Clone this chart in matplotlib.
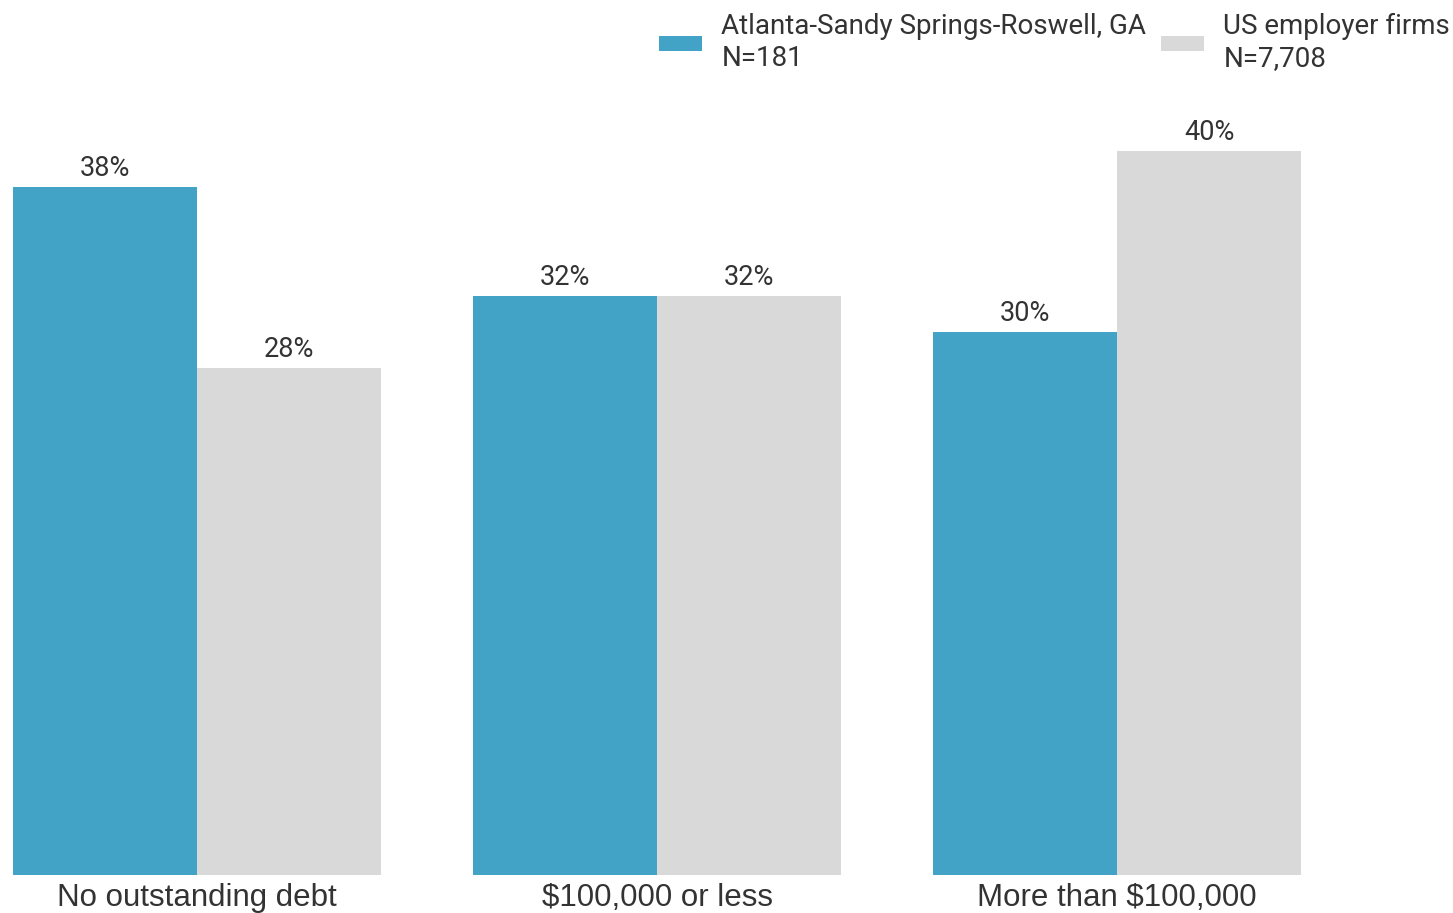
import matplotlib
matplotlib.use("Agg")
import matplotlib.pyplot as plt
import numpy as np

categories = ["No outstanding debt", "$100,000 or less", "More than $100,000"]
atlanta = [38, 32, 30]
us_firms = [28, 32, 40]
series_labels = ["Atlanta-Sandy Springs-Roswell, GA\nN=181", "US employer firms\nN=7,708"]
colors = ["#42A3C7", "#D9D9D9"]

W, H = 1453, 913
fig = plt.figure(figsize=(W / 100, H / 100), dpi=100)
ax = fig.add_axes([13 / W, 38 / H, (1301 - 13) / W, (875 - 151) / H])

x = np.arange(len(categories))
bw = 0.4
b1 = ax.bar(x - bw / 2, atlanta, bw, color=colors[0], label=series_labels[0])
b2 = ax.bar(x + bw / 2, us_firms, bw, color=colors[1], label=series_labels[1])

for bars, vals in ((b1, atlanta), (b2, us_firms)):
    for rect, v in zip(bars, vals):
        ax.annotate(f"{v}%", (rect.get_x() + rect.get_width() / 2, rect.get_height()),
                    xytext=(0, 3.5), textcoords="offset points", ha="center", va="bottom",
                    fontsize=19.5, family="Roboto", color="#333333", annotation_clip=False)

ax.set_xlim(-0.4, 2.4)
ax.set_ylim(0, 40)
ax.set_xticks(x)
ax.set_xticklabels(categories, fontsize=22.5, family="Liberation Sans", color="#333333")
ax.tick_params(axis="x", length=0, pad=6)
ax.set_yticks([])
for s in ax.spines.values():
    s.set_visible(False)

leg = fig.legend(handles=[b1, b2], labels=series_labels, ncol=2, loc="upper right",
                 bbox_to_anchor=(1450 / W, 1 - 13 / H), frameon=False,
                 prop={"family": "Roboto", "size": 20},
                 handlelength=1.55, handleheight=0.47, handletextpad=0.68,
                 columnspacing=0.54, borderaxespad=0, borderpad=0, labelspacing=0.2)
for t in leg.get_texts():
    t.set_color("#333333")
    t.set_linespacing(1.24)

fig.savefig("out.png", dpi=100)
